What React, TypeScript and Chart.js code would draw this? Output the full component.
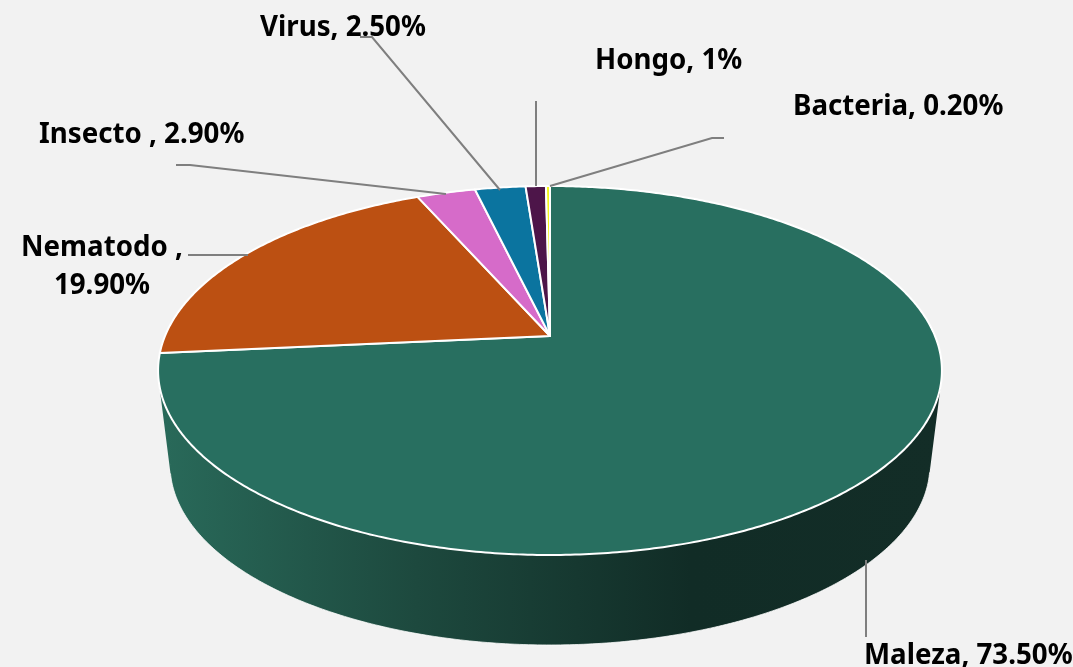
import React, { useEffect, useRef } from "react";
import { Chart, registerables } from "chart.js";

Chart.register(...registerables);

const categories = ["Maleza", "Nematodo", "Insecto", "Virus", "Hongo", "Bacteria"];
const values = [73.5, 19.9, 2.9, 2.5, 1, 0.2];
const sliceColors = ["#286f60", "#bc5012", "#d66bc9", "#0b749f", "#4d1549", "#f5f51e"];
const labelLines = [
  ["Maleza, 73.50%"],
  ["Nematodo ,", "19.90%"],
  ["Insecto , 2.90%"],
  ["Virus, 2.50%"],
  ["Hongo, 1%"],
  ["Bacteria, 0.20%"],
];

// Label anchor and leader-line layout (one per category)
const labelPos = [
  { x: 864, y: 664, align: "left" },
  { x: 102, y: 256, align: "center" },
  { x: 39, y: 143, align: "left" },
  { x: 260, y: 36, align: "left" },
  { x: 595, y: 69, align: "left" },
  { x: 793, y: 115, align: "left" },
];
const leaders = [
  [[866, 560], [866, 637]],
  [[188, 255], [248, 255]],
  [[176, 165], [190, 165], [446, 194]],
  [[360, 37], [372, 37], [500, 190]],
  [[536, 101], [536, 186]],
  [[724, 138], [712, 138], [550, 186]],
];

// Perspective projection of the pie disc
const CX = 550;
const K = -0.187;
const A = 115.2;
const B = 336;
const C = 385;
const project = (ang: number) => {
  const u = Math.cos(ang), v = Math.sin(ang);
  const w = 1 + K * v;
  return { x: CX + (C * u) / w, y: (A * v + B) / w, v };
};
const lower = (p: { x: number; y: number }) => ({
  x: CX + ((p.x - CX) * 380) / 392,
  y: 465 + ((p.y - 370.5) * 180) / 184.5,
});

const pie3d = {
  id: "pie3d",
  beforeDatasetsDraw(chart: any) {
    const ctx: CanvasRenderingContext2D = chart.ctx;
    const arcs = chart.getDatasetMeta(0).data;
    ctx.save();

    // Side wall of the slices facing the viewer
    const grad = ctx.createLinearGradient(158, 0, 942, 0);
    grad.addColorStop(0, "#296a5a");
    grad.addColorStop(0.33, "#1d493e");
    grad.addColorStop(0.68, "#112c26");
    grad.addColorStop(1, "#132d27");
    arcs.forEach((arc: any) => {
      const { startAngle, endAngle } = arc.getProps(["startAngle", "endAngle"], true);
      const steps = Math.max(2, Math.ceil((endAngle - startAngle) / 0.01));
      const top: any[] = [];
      for (let i = 0; i <= steps; i++) {
        const p = project(startAngle + ((endAngle - startAngle) * i) / steps);
        if (p.v >= 0) top.push(p);
      }
      if (top.length < 2) return;
      // All wall quads go in one path with one winding, filled once: a seamless union
      ctx.fillStyle = grad;
      ctx.beginPath();
      for (let i = 0; i < top.length - 1; i++) {
        const quad = [top[i], top[i + 1], lower(top[i + 1]), lower(top[i])];
        let area = 0;
        quad.forEach((p, j) => {
          const n = quad[(j + 1) % 4];
          area += p.x * n.y - n.x * p.y;
        });
        if (area < 0) quad.reverse();
        quad.forEach((p, j) => (j ? ctx.lineTo(p.x, p.y) : ctx.moveTo(p.x, p.y)));
        ctx.closePath();
      }
      ctx.fill();
      // Light rim along the visible lower edge only
      ctx.beginPath();
      let started = false;
      top.forEach((p) => {
        const q = lower(p);
        if (q.y < 472) return;
        if (started) ctx.lineTo(q.x, q.y);
        else {
          ctx.moveTo(q.x, q.y);
          started = true;
        }
      });
      ctx.strokeStyle = "rgba(255,255,255,0.75)";
      ctx.lineWidth = 1;
      ctx.stroke();
    });

    // Top faces
    ctx.lineJoin = "round";
    arcs.forEach((arc: any) => {
      const { startAngle, endAngle } = arc.getProps(["startAngle", "endAngle"], true);
      const steps = Math.max(2, Math.ceil((endAngle - startAngle) / 0.01));
      ctx.beginPath();
      ctx.moveTo(CX, B);
      for (let i = 0; i <= steps; i++) {
        const p = project(startAngle + ((endAngle - startAngle) * i) / steps);
        ctx.lineTo(p.x, p.y);
      }
      ctx.closePath();
      ctx.fillStyle = arc.options.backgroundColor;
      ctx.fill();
      ctx.strokeStyle = "#ffffff";
      ctx.lineWidth = 2;
      ctx.stroke();
    });
    ctx.restore();
    return false;
  },
  afterDraw(chart: any) {
    const ctx: CanvasRenderingContext2D = chart.ctx;
    ctx.save();
    ctx.strokeStyle = "#7f7f7f";
    ctx.lineWidth = 2;
    leaders.forEach((pts) => {
      ctx.beginPath();
      pts.forEach(([x, y], i) => (i ? ctx.lineTo(x, y) : ctx.moveTo(x, y)));
      ctx.stroke();
    });
    ctx.fillStyle = "#000000";
    ctx.font = 'bold 27.7px "Noto Sans"';
    ctx.textBaseline = "alphabetic";
    labelLines.forEach((lines, i) => {
      const pos = labelPos[i];
      ctx.textAlign = pos.align as CanvasTextAlign;
      lines.forEach((line, j) => ctx.fillText(line, pos.x, pos.y + j * 38));
    });
    ctx.restore();
  },
};

export default function App() {
  const ref = useRef<HTMLCanvasElement>(null);
  useEffect(() => {
    document.body.style.margin = "0";
    document.body.style.background = "#f2f2f2";
    const chart = new Chart(ref.current!, {
      type: "pie",
      data: {
        labels: categories,
        datasets: [{ data: values, backgroundColor: sliceColors }],
      },
      options: {
        animation: false,
        responsive: false,
        devicePixelRatio: 1,
        plugins: { legend: { display: false }, tooltip: { enabled: false } },
      },
      plugins: [pie3d],
    } as any);
    return () => chart.destroy();
  }, []);
  return (
    <canvas
      ref={ref}
      width={1073}
      height={667}
      style={{ display: "block", width: 1073, height: 667, background: "#f2f2f2" }}
    />
  );
}
